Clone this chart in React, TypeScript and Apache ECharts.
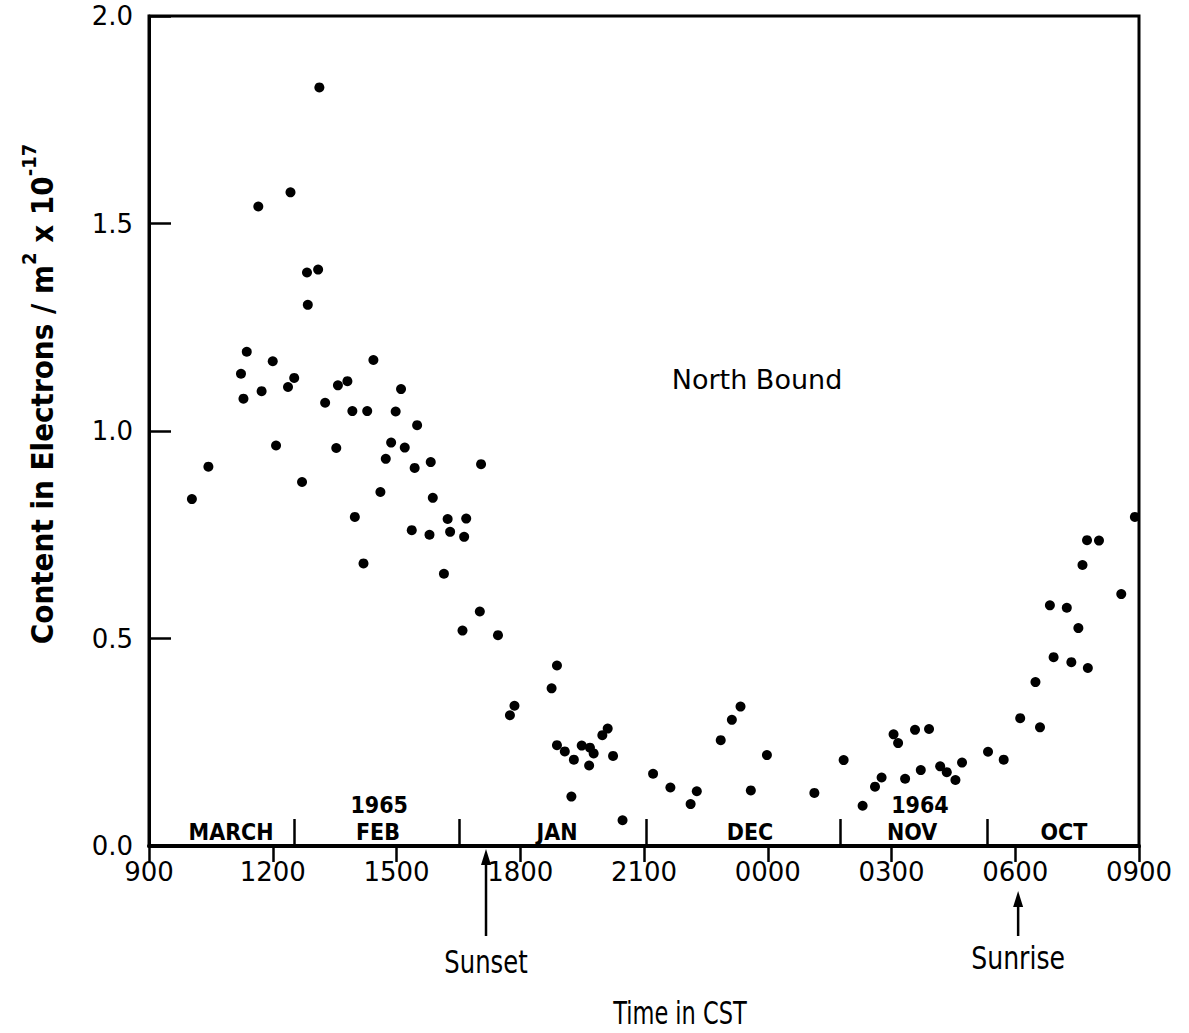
import React, { useEffect, useRef } from "react";
import * as echarts from "echarts";

// Time in hours counted from 0900 (9) to 0900 next day (33)
const hours = [
  10.04, 10.44, 11.23, 11.29, 11.37, 11.65, 11.73, 12.0, 12.08, 12.37,
  12.43, 12.52, 12.71, 12.83, 12.85, 13.1, 13.13, 13.27, 13.54, 13.58,
  13.81, 13.93, 13.99, 14.2, 14.29, 14.44, 14.61, 14.74, 14.87, 14.98,
  15.11, 15.2, 15.37, 15.44, 15.5, 15.8, 15.83, 15.88, 16.15, 16.24,
  16.3, 16.6, 16.64, 16.69, 17.02, 17.05, 17.46, 17.75, 17.86, 18.76,
  18.89, 18.89, 19.08, 19.24, 19.3, 19.49, 19.67, 19.69, 19.78, 19.99,
  20.12, 20.25, 20.48, 21.22, 21.64, 22.13, 22.28, 22.86, 23.13, 23.34,
  23.59, 23.98, 25.13, 25.84, 26.3, 26.6, 26.76, 27.05, 27.16, 27.33,
  27.57, 27.71, 27.91, 28.18, 28.34, 28.55, 28.71, 29.34, 29.72, 30.12,
  30.49, 30.6, 30.84, 30.93, 31.25, 31.36, 31.53, 31.63, 31.74, 31.76,
  32.03, 32.57, 32.9,
];
const content = [
  0.836, 0.914, 1.138, 1.078, 1.191, 1.541, 1.096, 1.168, 0.965, 1.106,
  1.575, 1.128, 0.877, 1.382, 1.304, 1.389, 1.828, 1.068, 0.959, 1.11,
  1.12, 1.048, 0.793, 0.681, 1.048, 1.171, 0.853, 0.933, 0.972, 1.047,
  1.101, 0.96, 0.761, 0.911, 1.014, 0.75, 0.925, 0.839, 0.656, 0.788,
  0.757, 0.519, 0.745, 0.789, 0.565, 0.92, 0.508, 0.315, 0.338, 0.38,
  0.435, 0.243, 0.228, 0.119, 0.208, 0.242, 0.194, 0.237, 0.223, 0.267,
  0.283, 0.217, 0.062, 0.174, 0.141, 0.101, 0.132, 0.255, 0.304, 0.336,
  0.134, 0.219, 0.128, 0.207, 0.097, 0.143, 0.165, 0.269, 0.248, 0.162,
  0.28, 0.183, 0.282, 0.192, 0.178, 0.159, 0.201, 0.227, 0.208, 0.308,
  0.395, 0.286, 0.58, 0.455, 0.574, 0.443, 0.525, 0.677, 0.737, 0.429,
  0.736, 0.607, 0.793,
];

const xTickLabels = ["900", "1200", "1500", "1800", "2100", "0000", "0300", "0600", "0900"];
const yTickLabels = ["0.0", "0.5", "1.0", "1.5", "2.0"];

const monthNames = ["MARCH", "FEB", "JAN", "DEC", "NOV", "OCT"];
const monthCenters = [10.99, 14.55, 18.89, 23.57, 27.5, 31.18];
const monthBoundaries = [12.52, 16.53, 21.05, 25.76, 29.33];
const yearNames = ["1965", "1964"];
const yearCenters = [14.58, 27.69];

const eventNames = ["Sunset", "Sunrise"];
const eventHours = [17.17, 30.07];

const FONT = "DejaVu Sans";
const COND = "DejaVu Sans Condensed";

export default function App() {
  const ref = useRef<HTMLDivElement>(null);

  useEffect(() => {
    document.body.style.margin = "0";
    if (!ref.current) return;
    const chart = echarts.init(ref.current, null, { renderer: "svg" });

    const points = hours.map((h, i) => [h, content[i]]);
    const monthLabelData = monthNames.map((n, i) => [monthCenters[i], 0.034, n]);
    const yearLabelData = yearNames.map((n, i) => [yearCenters[i], 0.098, n]);

    const option: any = {
      animation: false,
      backgroundColor: "#fff",
      grid: {
        left: 149,
        top: 16,
        width: 990,
        height: 830,
        show: true,
        borderColor: "#000",
        borderWidth: 3,
        backgroundColor: "transparent",
      },
      xAxis: {
        type: "value",
        min: 9,
        max: 33,
        interval: 3,
        splitLine: { show: false },
        axisLine: { show: true, onZero: false, lineStyle: { color: "#000", width: 4 } },
        axisTick: { show: true, inside: false, length: 16, lineStyle: { color: "#000", width: 2.5 } },
        axisLabel: {
          margin: 13,
          color: "#000",
          fontFamily: FONT,
          fontSize: 26,
          formatter: (v: number) => xTickLabels[Math.round((v - 9) / 3)] ?? "",
        },
      },
      yAxis: {
        type: "value",
        min: 0,
        max: 2,
        interval: 0.5,
        splitLine: { show: false },
        axisLine: { show: true, lineStyle: { color: "#000", width: 3 } },
        axisTick: { show: true, inside: true, length: 22, lineStyle: { color: "#000", width: 2.5 } },
        axisLabel: {
          margin: 16,
          color: "#000",
          fontFamily: FONT,
          fontSize: 26,
          formatter: (v: number) => yTickLabels[Math.round(v / 0.5)] ?? "",
        },
      },
      series: [
        {
          type: "scatter",
          name: "North Bound",
          data: points,
          symbol: "circle",
          symbolSize: 10,
          itemStyle: { color: "#000", opacity: 1 },
          silent: true,
          markLine: {
            silent: true,
            symbol: "none",
            label: { show: false },
            lineStyle: { color: "#000", width: 2.5, type: "solid", opacity: 1 },
            data: monthBoundaries.map((b) => [{ coord: [b, 0] }, { coord: [b, 0.065] }]),
          },
        },
        {
          type: "scatter",
          data: [...monthLabelData, ...yearLabelData],
          symbolSize: 1,
          itemStyle: { color: "rgba(0,0,0,0)", opacity: 1 },
          silent: true,
          label: {
            show: true,
            position: "inside",
            color: "#000",
            opacity: 1,
            fontFamily: COND,
            fontWeight: "bold",
            fontSize: 23,
            formatter: (p: any) => p.data[2],
          },
        },
        {
          type: "scatter",
          data: [[23.74, 1.123, "North Bound"]],
          symbolSize: 1,
          itemStyle: { color: "rgba(0,0,0,0)", opacity: 1 },
          silent: true,
          label: {
            show: true,
            position: "inside",
            color: "#000",
            opacity: 1,
            fontFamily: FONT,
            fontSize: 27,
            formatter: (p: any) => p.data[2],
          },
        },
      ],
    };

    chart.setOption(option);

    const graphics: any[] = [];
    eventHours.forEach((h, i) => {
      const px = chart.convertToPixel({ xAxisIndex: 0 }, h) as number;
      const tipY = i === 0 ? 849 : 891;
      graphics.push({
        type: "line",
        shape: { x1: px, y1: 936, x2: px, y2: tipY + 10 },
        style: { stroke: "#000", lineWidth: 2.5 },
      });
      graphics.push({
        type: "polygon",
        shape: { points: [[px, tipY], [px - 5, tipY + 16], [px + 5, tipY + 16]] },
        style: { fill: "#000" },
      });
      graphics.push({
        type: "text",
        x: px,
        y: i === 0 ? 962 : 958,
        scaleY: 1.15,
        style: {
          text: eventNames[i],
          fontFamily: COND,
          fontSize: i === 0 ? 27 : 28,
          fill: "#000",
          align: "center",
          verticalAlign: "middle",
        },
      });
    });
    graphics.push({
      type: "text",
      x: 680,
      y: 1013,
      scaleY: 1.3,
      style: {
        text: "Time in CST",
        fontFamily: COND,
        fontSize: 25,
        fill: "#000",
        align: "center",
        verticalAlign: "middle",
      },
    });
    graphics.push({
      type: "text",
      x: 42,
      y: 394,
      rotation: Math.PI / 2,
      style: {
        text: "{n|Content in Electrons / m}{s|2}{n| x 10}{s|-17}",
        fill: "#000",
        align: "center",
        verticalAlign: "middle",
        rich: {
          n: { fontFamily: COND, fontWeight: "bold", fontSize: 31, lineHeight: 46, fill: "#000" },
          s: { fontFamily: COND, fontWeight: "bold", fontSize: 20, lineHeight: 20, verticalAlign: "top", fill: "#000" },
        },
      },
    });
    chart.setOption({ graphic: graphics });

    return () => chart.dispose();
  }, []);

  return <div ref={ref} style={{ width: 1189, height: 1033 }} />;
}
